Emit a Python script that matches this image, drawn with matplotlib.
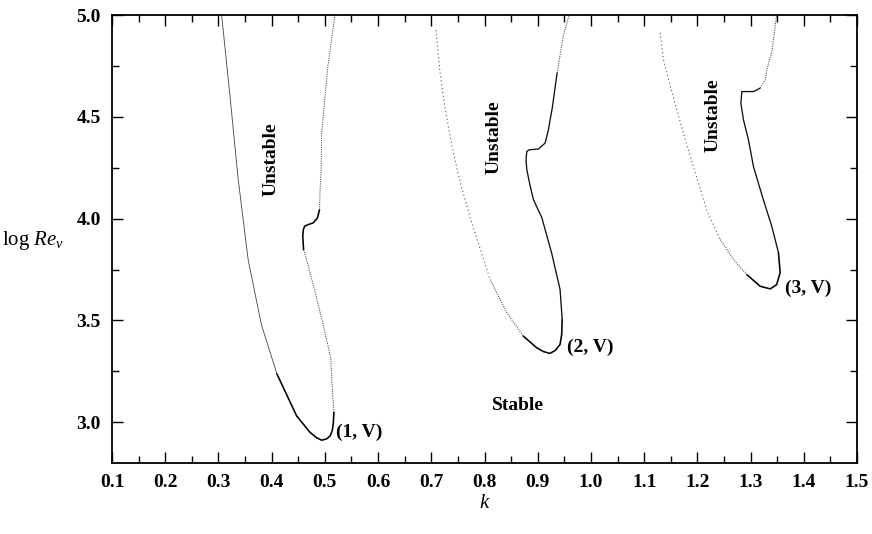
import matplotlib
matplotlib.use("Agg")
import matplotlib.pyplot as plt
from matplotlib.ticker import MultipleLocator

plt.rcParams['font.family'] = ['Liberation Serif', 'DejaVu Serif']
plt.rcParams['mathtext.fontset'] = 'custom'
plt.rcParams['mathtext.rm'] = 'Liberation Serif'
plt.rcParams['mathtext.it'] = 'Liberation Serif:italic'

# Neutral stability curves, mode (1, V)
k1 = [0.306, 0.322, 0.337, 0.356, 0.381, 0.410, 0.447, 0.472, 0.484, 0.494,
      0.503, 0.510, 0.514, 0.516, 0.517, 0.513, 0.511, 0.497, 0.482, 0.466,
      0.460, 0.4585, 0.4596, 0.462, 0.469, 0.478, 0.486, 0.490, 0.491, 0.493,
      0.494, 0.5055, 0.519]
logre1 = [5.000, 4.595, 4.196, 3.796, 3.477, 3.237, 3.031, 2.951, 2.925, 2.912,
          2.918, 2.933, 2.960, 3.000, 3.049, 3.211, 3.317, 3.477, 3.636, 3.796,
          3.848, 3.913, 3.946, 3.963, 3.971, 3.979, 4.003, 4.044, 4.142, 4.240,
          4.420, 4.745, 5.000]

# mode (2, V)
k2 = [0.709, 0.7165, 0.726, 0.7385, 0.754, 0.773, 0.795, 0.8105, 0.842, 0.873,
      0.898, 0.911, 0.923, 0.933, 0.942, 0.945, 0.946, 0.942, 0.9265, 0.9077,
      0.892, 0.886, 0.8795, 0.878, 0.8795, 0.884, 0.9013, 0.9139, 0.9201, 0.9233,
      0.9271, 0.9365, 0.9477, 0.959]
logre2 = [4.926, 4.717, 4.539, 4.360, 4.182, 4.005, 3.826, 3.701, 3.538, 3.423,
          3.366, 3.347, 3.338, 3.353, 3.382, 3.430, 3.505, 3.652, 3.828, 4.005,
          4.093, 4.158, 4.240, 4.289, 4.330, 4.338, 4.342, 4.371, 4.436, 4.485,
          4.539, 4.716, 4.892, 5.000]

# mode (3, V)
k3 = [1.130, 1.136, 1.149, 1.1645, 1.180, 1.199, 1.218, 1.243, 1.268, 1.293,
      1.318, 1.337, 1.349, 1.3556, 1.3524, 1.340, 1.324, 1.3055, 1.296, 1.2867,
      1.2818, 1.2836, 1.3055, 1.318, 1.3274, 1.3306, 1.3355, 1.340, 1.349]
logre3 = [4.912, 4.784, 4.652, 4.505, 4.363, 4.201, 4.039, 3.897, 3.799, 3.725,
          3.668, 3.655, 3.676, 3.735, 3.833, 3.961, 4.093, 4.255, 4.387, 4.485,
          4.567, 4.624, 4.624, 4.641, 4.681, 4.730, 4.779, 4.819, 5.000]

mode_labels = ['(1, V)', '(2, V)', '(3, V)']
x_ticks = [0.1, 0.2, 0.3, 0.4, 0.5, 0.6, 0.7, 0.8, 0.9, 1.0, 1.1, 1.2, 1.3, 1.4, 1.5]
y_ticks = [3.0, 3.5, 4.0, 4.5, 5.0]

fig = plt.figure(figsize=(8.72, 5.34), dpi=100)
ax = fig.add_axes([112 / 872, 1 - 463 / 534, (857 - 112) / 872, (463 - 15) / 534])

solid_dark = dict(color='black', lw=1.15, ls='-')
solid_mid = dict(color='#111111', lw=0.95, ls='-')
solid_thin = dict(color='#444444', lw=0.6, ls='-')
dotted = dict(color='#555555', lw=0.8, ls=(0, (1, 2.5)))
dotted_dense = dict(color='#444444', lw=0.75, ls=(0, (1, 1.2)))


def draw_pieces(k, r, pieces):
    for start, stop, style in pieces:
        ax.plot(k[start:stop + 1], r[start:stop + 1], solid_capstyle='round',
                solid_joinstyle='round', **style)


draw_pieces(k1, logre1, [(0, 5, solid_thin), (5, 14, solid_dark), (14, 20, dotted_dense),
                         (20, 27, solid_dark), (27, 32, dotted_dense)])
draw_pieces(k2, logre2, [(0, 7, dotted), (7, 9, dotted_dense), (9, 16, solid_dark),
                         (16, 31, solid_mid), (31, 33, dotted_dense)])
draw_pieces(k3, logre3, [(0, 7, dotted), (7, 9, dotted_dense), (9, 14, solid_dark),
                         (14, 23, solid_mid), (23, 28, dotted_dense)])

ax.set_xlim(0.1, 1.5)
ax.set_ylim(2.8, 5.0)
ax.set_xticks(x_ticks)
ax.set_xticklabels([f'{v:.1f}' for v in x_ticks], fontweight='bold')
ax.set_yticks(y_ticks)
ax.set_yticklabels([f'{v:.1f}' for v in y_ticks], fontweight='bold')
ax.xaxis.set_minor_locator(MultipleLocator(0.05))
ax.yaxis.set_minor_locator(MultipleLocator(0.25))
ax.tick_params(which='both', direction='in', top=True, right=True, width=1.0,
               labelsize=14, pad=8)
ax.tick_params(which='major', length=8)
ax.tick_params(which='minor', length=5)
for sp in ax.spines.values():
    sp.set_linewidth(1.3)

txt = dict(fontsize=14, ha='center', va='center', fontweight='bold')
ax.text(0.399, 4.29, 'Unstable', rotation=90, **txt)
ax.text(0.818, 4.40, 'Unstable', rotation=90, **txt)
ax.text(1.23, 4.51, 'Unstable', rotation=90, **txt)
ax.text(0.863, 3.08, 'Stable', **txt)

lab = dict(fontsize=14, ha='left', va='center', fontweight='bold')
ax.text(0.521, 2.95, mode_labels[0], **lab)
ax.text(0.955, 3.37, mode_labels[1], **lab)
ax.text(1.365, 3.66, mode_labels[2], **lab)

ax.set_xlabel('$k$', fontsize=15, labelpad=2)
fig.text(33 / 872, 1 - 241 / 534, r'log $Re_\nu$', fontsize=15, ha='center', va='center')

fig.savefig('out.png', dpi=100)
